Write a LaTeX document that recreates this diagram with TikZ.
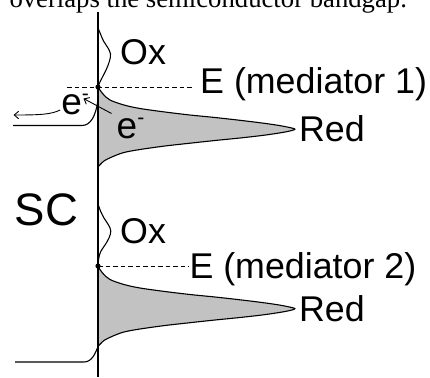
\documentclass[tikz,border=0pt]{standalone}
\usepackage{fontspec}
\setmainfont{Liberation Sans}
\newfontfamily\capfont{Liberation Serif}
\usetikzlibrary{arrows.meta}

\begin{document}
\begin{tikzpicture}[x=1pt,y=-1pt,
  lbl/.style={anchor=base west, inner sep=0pt, font=\fontsize{35.8}{40}\selectfont},
  elec/.style={anchor=base west, inner sep=0pt, font=\fontsize{37}{40}\selectfont},
  curve/.style={line width=1.1pt, line join=round},
  dos/.style={curve, fill=black!24},
  level/.style={line width=0.9pt, dash pattern=on 4.5pt off 3pt},
  barb/.style={-{Straight Barb[length=4.5pt,width=7.5pt]}, line width=0.9pt},
]
\useasboundingbox (0,0) rectangle (430,377);

% caption line of the surrounding text
\node[anchor=base west, inner sep=0pt, font=\capfont\fontsize{26.7}{30}\selectfont]
  (caption) at (9.3,8) {overlaps the semiconductor bandgap.};

% occupied (Red) density of states of both mediators
\foreach \s in {0,179.5}{
  \begin{scope}[shift={(0,\s)}]
    \filldraw[dos] plot[smooth, tension=0.55] coordinates {
      (98,87) (103,94) (110,100) (124,105) (140,108.5) (165,112) (190,115)
      (215,117.5) (240,120.3) (262,123) (278,125.3) (289,127.4) (295,129.2)
      (289,131.2) (278,133.2) (262,135.5) (240,138) (215,140.5) (190,143.2)
      (165,146) (140,149.5) (124,152.5) (113,156.5) (104,161) (98,167)} -- cycle;
  \end{scope}
}

% empty (Ox) density of states
\draw[curve] plot[smooth, tension=0.6] coordinates {
  (98,28) (100.5,34) (103.5,41) (108,48) (110.5,54) (109.5,61) (106.5,69)
  (102.5,77) (99.5,83) (98,87)};
\draw[curve] plot[smooth, tension=0.6] coordinates {
  (98,204) (100.5,211) (104,218) (108.5,225) (110.8,231) (109,238) (105,245)
  (101,251) (99,257) (98,265)};

% semiconductor band edges bending at the interface
\draw[curve] (13,125.5) -- (82,125.5) .. controls (90,125.5) and (96,117) .. (98,99);
\draw[curve] (15,362) -- (84,362) .. controls (92,362) and (95.5,353) .. (98,346.5);

% interface
\draw[line width=1.6pt] (97.8,12) -- (97.8,377);

% labels
\node[lbl] (ox1) at (120,64.5) {Ox};
\node[lbl] (med1) at (200,94) {E (mediator 1)};
\node[lbl] (red1) at (298.8,141.5) {Red};
\node[lbl, font=\fontsize{45.5}{48}\selectfont] (sc) at (14.5,225.5) {SC};
\node[lbl] (ox2) at (120,243) {Ox};
\node[lbl] (med2) at (189.3,278) {E (mediator 2)};
\node[lbl] (red2) at (298.8,321) {Red};
\node[elec] (eL) at (61.2,114.6) {e\raisebox{14pt}{\fontsize{21}{21}\selectfont -}};
\node[elec] (eR) at (116.5,138) {e\raisebox{14pt}{\fontsize{21}{21}\selectfont -}};

% mediator levels
\coordinate (lv1) at (98,87);
\coordinate (lv2) at (98,266);
\draw[level] ([xshift=-31pt]lv1) -- ([xshift=-8pt]lv1 -| med1.west);
\draw[level] (lv2) -- (lv2 -| med2.west);
\fill (lv1) circle (2.6pt);
\fill (lv2) circle (2.6pt);

% electron transfer arrows
\coordinate (outL) at (13.5,115);
\coordinate (hopS) at (111.5,113.5);
\coordinate (hopE) at (83.5,98.5);
\draw[barb] ([xshift=-1pt]eL.west |- 0,110) .. controls (51,114.5) and (40,115) .. (outL);
\draw[barb] (hopS) -- (hopE);
\end{tikzpicture}
\end{document}
